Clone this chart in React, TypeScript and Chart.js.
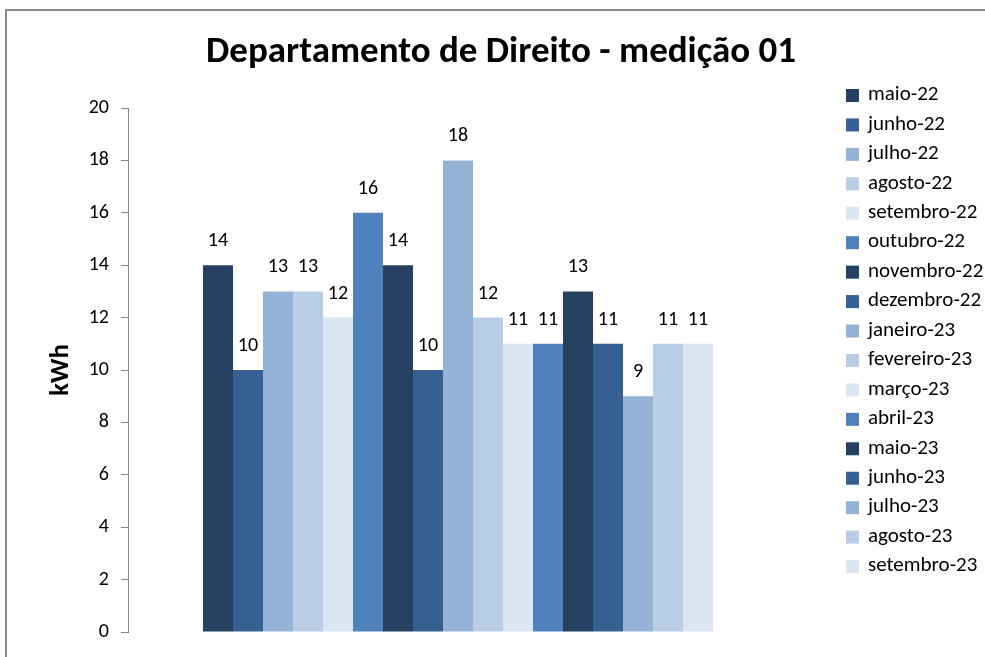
import React, { useEffect, useRef } from "react";
import { Chart, registerables } from "chart.js";

Chart.register(...registerables);

const seriesLabels = [
  "maio-22", "junho-22", "julho-22", "agosto-22", "setembro-22", "outubro-22",
  "novembro-22", "dezembro-22", "janeiro-23", "fevereiro-23", "março-23", "abril-23",
  "maio-23", "junho-23", "julho-23", "agosto-23", "setembro-23",
];
const seriesValues = [14, 10, 13, 13, 12, 16, 14, 10, 18, 12, 11, 11, 13, 11, 9, 11, 11];
const palette = ["#254061", "#366092", "#95B3D7", "#B9CDE5", "#DCE6F2", "#4F81BD"];
const categories = [""];
const yTicks = { min: 0, max: 20, step: 2 };
const titleText = "Departamento de Direito - medição 01";
const yAxisTitle = "kWh";

const FONT = "Carlito, Lato, 'Open Sans', sans-serif";

const overlay = {
  id: "overlay",
  afterDatasetsDraw(chart: any) {
    const ctx = chart.ctx;
    ctx.save();
    ctx.font = `20px ${FONT}`;
    ctx.fillStyle = "#000";
    ctx.textAlign = "center";
    ctx.textBaseline = "middle";
    chart.data.datasets.forEach((ds: any, i: number) => {
      const el = chart.getDatasetMeta(i).data[0];
      if (!el) return;
      ctx.fillText(String(ds.data[0]), el.x, el.y - 24);
    });
    ctx.restore();
  },
  afterDraw(chart: any) {
    const ctx = chart.ctx;
    const ca = chart.chartArea;
    ctx.save();
    // title
    ctx.fillStyle = "#000";
    ctx.font = `bold 37px ${FONT}`;
    ctx.textAlign = "center";
    ctx.textBaseline = "middle";
    ctx.fillText(titleText, 501, 53);
    // y axis title
    ctx.save();
    ctx.translate(61, (ca.top + ca.bottom) / 2);
    ctx.rotate(-Math.PI / 2);
    ctx.font = `bold 27px ${FONT}`;
    ctx.fillText(yAxisTitle, 0, 0);
    ctx.restore();
    // legend
    ctx.font = `21px ${FONT}`;
    ctx.textAlign = "left";
    chart.data.datasets.forEach((ds: any, i: number) => {
      const cy = 95 + i * 29.44;
      ctx.fillStyle = ds.backgroundColor;
      ctx.fillRect(846, cy - 6, 13, 13);
      ctx.fillStyle = "#000";
      ctx.fillText(ds.label, 868, cy);
    });
    ctx.restore();
  },
};

export default function App() {
  const ref = useRef<HTMLCanvasElement>(null);
  useEffect(() => {
    if (!ref.current) return;
    const chart = new Chart(ref.current, {
      type: "bar",
      data: {
        labels: categories,
        datasets: seriesLabels.map((label, i) => ({
          label,
          data: [seriesValues[i]],
          backgroundColor: palette[i % palette.length],
          borderWidth: 0,
          categoryPercentage: 510 / 660,
          barPercentage: 1,
        })),
      },
      options: {
        responsive: false,
        animation: false,
        devicePixelRatio: 1,
        layout: { padding: { left: 0, top: 108, right: 197, bottom: 25 } },
        plugins: {
          legend: { display: false },
          title: { display: false },
          tooltip: { enabled: false },
        },
        scales: {
          x: { display: false },
          y: {
            min: yTicks.min,
            max: yTicks.max,
            ticks: {
              stepSize: yTicks.step,
              color: "#000",
              font: { size: 20, family: FONT },
              padding: 12,
            },
            grid: {
              drawOnChartArea: false,
              drawTicks: true,
              tickLength: 7,
              color: "#868686",
            },
            border: { display: true, color: "#868686", width: 1 },
            afterFit(s: any) {
              s.width = 128;
            },
          },
        },
      },
      plugins: [overlay],
    } as any);
    return () => chart.destroy();
  }, []);
  return (
    <div style={{ position: "fixed", left: 0, top: 0, width: 985, height: 657, background: "#fff", overflow: "hidden" }}>
      <canvas ref={ref} width={985} height={657} style={{ position: "absolute", left: 0, top: 0 }} />
      <div style={{ position: "absolute", left: 5, top: 9, width: 1000, height: 700, border: "2px solid #8c8c8c", pointerEvents: "none" }} />
    </div>
  );
}
